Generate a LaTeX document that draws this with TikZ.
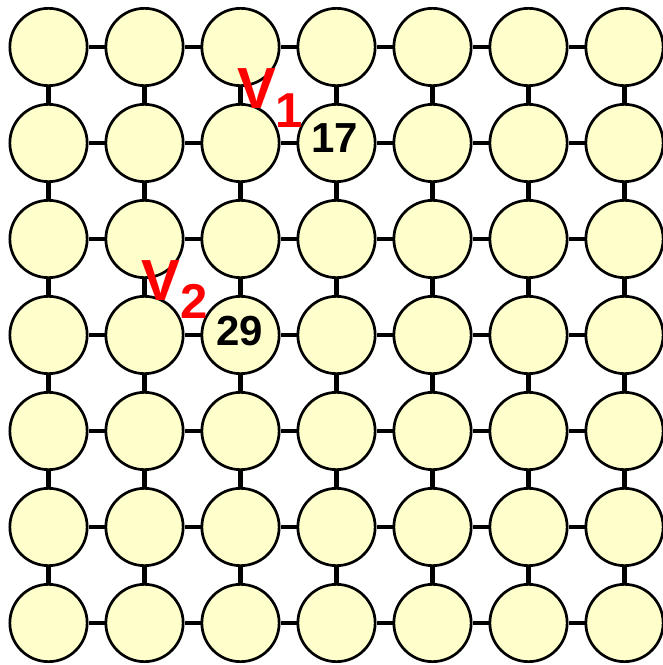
\documentclass[tikz,border=0pt]{standalone}
\usepackage{fontspec}
\setmainfont{Liberation Sans}
\usepackage{tikz}
\usepackage{xcolor}

\definecolor{cellfill}{HTML}{FFFFCC}
\definecolor{vred}{HTML}{FF0000}

\tikzset{
  cell/.style={circle, draw=black, line width=2.7pt, fill=cellfill, minimum size=77.3pt, inner sep=0pt},
  link/.style={line width=4.5pt, black},
  num/.style={inner sep=0pt, font=\bfseries\fontsize{42}{42}\selectfont},
  vlet/.style={inner sep=0pt, text=vred, font=\bfseries\fontsize{58}{58}\selectfont},
  vsub/.style={inner sep=0pt, text=vred, font=\bfseries\fontsize{49}{49}\selectfont}
}

\begin{document}
\begin{tikzpicture}[x=1pt, y=-1pt]
\useasboundingbox (0,0) rectangle (663,665);

% grid of cells
\foreach \i in {0,...,6}
  \foreach \j in {0,...,6}
    \node[cell] (n\i\j) at ({48.5+96*\i}, {47+96*\j}) {};

% links between neighbours
\foreach \i [evaluate=\i as \k using int(\i+1)] in {0,...,5}
  \foreach \j in {0,...,6} {
    \draw[link] (n\i\j) -- (n\k\j);
    \draw[link] (n\j\i) -- (n\j\k);
  }

% numbers
\node[num] (l17) at (335,138) {17};
\node[num] (l29) at (240,331) {29};

% v labels
\node[vlet, anchor=base west] (v1) at (237,108) {V};
\node[vsub, anchor=base west] (v1s) at (275,127) {1};
\node[vlet, anchor=base west] (v2) at (141,300) {V};
\node[vsub, anchor=base west] (v2s) at (180,318) {2};
\end{tikzpicture}
\end{document}
